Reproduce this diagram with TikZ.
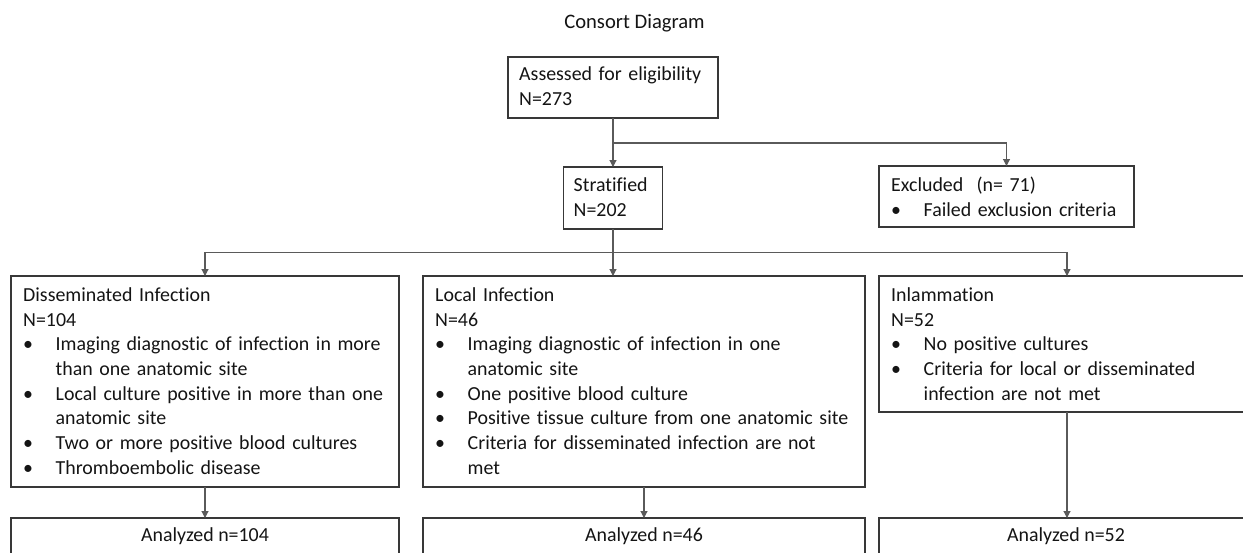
\documentclass[tikz,border=0pt]{standalone}
\usepackage{fontspec}
\setmainfont{Carlito}[Ligatures={NoCommon}]
\usetikzlibrary{arrows.meta}
\definecolor{ink}{HTML}{141414}
\definecolor{edgec}{HTML}{383838}
\definecolor{connc}{HTML}{5A5A5A}
\newcommand{\bul}{\makebox[32.5pt][l]{•}}
\newcommand{\ind}{\hspace*{32.5pt}}
\tikzset{
  boxx/.style={draw=edgec, line width=1.6pt, inner sep=0pt, outer sep=0pt, anchor=north west},
  txt/.style={inner sep=0pt, anchor=base west, text width=#1, align=left, text=ink,
    font=\fontsize{19.9}{24.65}\selectfont},
  ctxt/.style={inner sep=0pt, anchor=base, text=ink, font=\fontsize{19.9}{24.65}\selectfont},
  conn/.style={draw=connc, line width=1.1pt, -{Triangle[length=7pt,width=7pt]}},
  plain/.style={draw=connc, line width=1.1pt}
}
\begin{document}
\begin{tikzpicture}[x=1pt,y=-1pt]
\useasboundingbox (0,0) rectangle (1243,552);
\fill[white] (0,0) rectangle (1243,552);
\clip (0,0) rectangle (1243,552);

% title
\node[ctxt, font=\fontsize{20.6}{24.65}\selectfont] (title) at (634.5,28) {Consort Diagram};

% boxes
\node[boxx, minimum width=210pt, minimum height=61pt] (ass) at (508,57) {};
\node[boxx, minimum width=99pt, minimum height=62pt] (strat) at (563.5,167) {};
\node[boxx, minimum width=255pt, minimum height=61pt] (exc) at (879,166) {};
\node[boxx, minimum width=388pt, minimum height=211pt] (dis) at (11,276) {};
\node[boxx, minimum width=442pt, minimum height=211pt] (loc) at (423,276) {};
\node[boxx, minimum width=376pt, minimum height=136pt] (inf) at (879,276) {};
\node[boxx, minimum width=388pt, minimum height=60pt] (an1) at (11,518) {};
\node[boxx, minimum width=442pt, minimum height=60pt] (an2) at (423,518) {};
\node[boxx, minimum width=376pt, minimum height=60pt] (an3) at (879,518) {};

% texts
\node[txt=220pt] (asst) at (519,80.7) {Assessed for eligibility\\N=273};
\node[txt=110pt] (stratt) at (573.5,191.4) {Stratified\\N=202};
\node[txt=280pt] (exct) at (891,191.5) {Excluded~~(n=~71)\\\bul Failed exclusion criteria};
\node[txt=420pt] (dist) at (23,301.5) {Disseminated Infection\\N=104\\
  \bul Imaging diagnostic of infection in more\\\ind than one anatomic site\\
  \bul Local culture positive in more than one\\\ind anatomic site\\
  \bul Two or more positive blood cultures\\
  \bul Thromboembolic disease};
\node[txt=460pt] (loct) at (435,301.5) {Local Infection\\N=46\\
  \bul Imaging diagnostic of infection in one\\\ind anatomic site\\
  \bul One positive blood culture\\
  \bul Positive tissue culture from one anatomic site\\
  \bul Criteria for disseminated infection are not\\\ind met};
\node[txt=400pt] (inft) at (891,301.5) {Inlammation\\N=52\\
  \bul No positive cultures\\
  \bul Criteria for local or disseminated\\\ind infection are not met};
\node[ctxt] (an1t) at (205,541.7) {Analyzed n=104};
\node[ctxt] (an2t) at (644,541.7) {Analyzed n=46};
\node[ctxt] (an3t) at (1066,541.7) {Analyzed n=52};

% junctions
\coordinate (j1) at (613,143);
\coordinate (j2) at (613,252.5);

% connectors
\draw[conn] (ass.south) -- (strat.north);
\draw[conn] (j1) -| (exc.north);
\draw[conn] (strat.south) -- (strat.south |- loc.north);
\draw[conn] (j2) -| (dis.north);
\draw[conn] (j2) -| (inf.north);
\draw[conn] (dis.south) -- (an1.north);
\draw[conn] (loc.south) -- (an2.north);
\draw[conn] (inf.south) -- (an3.north);
\end{tikzpicture}
\end{document}
